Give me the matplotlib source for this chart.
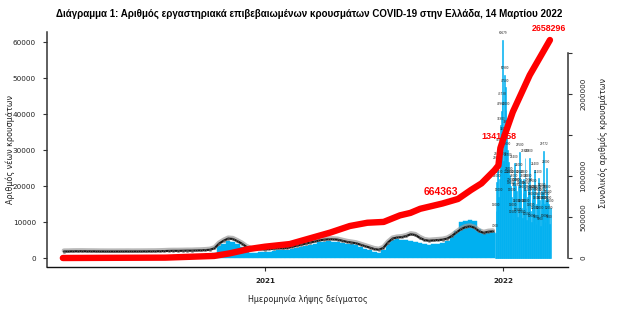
import matplotlib
matplotlib.use("Agg")
import matplotlib.pyplot as plt
import matplotlib.dates as mdates
from matplotlib import font_manager
import numpy as np
import pandas as pd

# fonts: a narrow face for title / red labels if present
names = set(f.name for f in font_manager.fontManager.ttflist)
narrow = "Liberation Sans Narrow" if "Liberation Sans Narrow" in names else "Liberation Sans"

# ---- data ----
# weekly readings, 2020-02-24 .. 2021-12-13 (weeks start on Monday)
week_start = pd.date_range("2020-02-24", "2021-12-13", freq="7D")
week_mean = [5, 20, 60, 70, 80, 60, 50, 40, 20, 15,
             10, 10, 15, 20, 25, 20, 25, 30, 40, 50,
             60, 90, 130, 180, 200, 200, 220, 250, 250, 300,
             330, 400, 500, 900, 2200, 3000, 3600, 3500, 2900, 2200,
             1300, 700, 650, 700, 550, 700, 800, 900, 900, 1000,
             1300, 1600, 1900, 2200, 2500, 2800, 3100, 3300, 3400, 3400,
             3300, 3000, 2700, 2500, 2300, 1900, 1500, 1100, 700, 500,
             1000, 2500, 3600, 3900, 4000, 4300, 4800, 4600, 3800, 3200,
             3000, 3100, 3200, 3300, 3600, 4300, 5300, 6200, 6800, 7000,
             6600, 5600, 5200, 5500, 5600]
week_peak = [10, 40, 100, 110, 120, 100, 150, 80, 40, 30,
             20, 20, 30, 40, 50, 40, 50, 60, 80, 90,
             90, 150, 260, 290, 320, 300, 350, 400, 400, 450,
             500, 600, 800, 1500, 3200, 4000, 4600, 4500, 3900, 3100,
             2000, 1500, 1400, 1800, 1600, 1800, 1900, 2100, 2200, 2200,
             2500, 2700, 3000, 3300, 3600, 4000, 4400, 4500, 4600, 4500,
             4400, 4200, 4000, 4000, 3600, 3000, 2500, 2100, 1600, 1400,
             2200, 4000, 5000, 5200, 5000, 4900, 4700, 4500, 4200, 3800,
             3700, 3800, 4000, 4300, 4800, 6000, 7500, 10000, 10300, 10500,
             10200, 8000, 7000, 7000, 7200]

# daily readings, 2021-12-20 .. 2022-03-14
day_dates = pd.date_range("2021-12-20", "2022-03-14", freq="D")
day_cases = [7000, 13000, 21000, 26000, 27000, 17000, 22000, 30860, 36903, 40963, 43738, 60679,
             27000, 34000, 50980, 47500, 41000, 36000, 30000,
             22000, 26700, 23000, 22000, 20000, 19000, 17000,
             13000, 11000, 21000, 26400, 22000, 20000, 18500,
             14000, 11500, 20000, 24000, 29500, 22000, 19000,
             14000, 11000, 18000, 22000, 21000, 27800, 19000,
             14000, 10500, 17000, 21000, 20000, 27800, 18000,
             13000, 10000, 16000, 19500, 18000, 17500, 24400,
             12000, 9500, 15000, 18000, 17000, 22200, 16000,
             12000, 9000, 15000, 18500, 18000, 17000, 29772,
             15000, 10000, 16000, 25000, 18000, 16500, 15000,
             12000, 9500, 14000]

# cumulative cases (right axis)
cum_dates = pd.to_datetime([
    "2020-02-26", "2020-08-01", "2020-10-15", "2020-11-08", "2020-12-08",
    "2021-01-01", "2021-02-08", "2021-03-11", "2021-04-11", "2021-05-11",
    "2021-06-07", "2021-07-02", "2021-07-27", "2021-08-12", "2021-08-27",
    "2021-09-30", "2021-10-24", "2021-11-13", "2021-11-29", "2021-12-19",
    "2021-12-25", "2021-12-28", "2022-01-01", "2022-01-16", "2022-02-11",
    "2022-03-14"])
cum_cases = [0, 4500, 25000, 57000, 110000,
             138000, 170000, 240000, 310000, 390000,
             430000, 440000, 520000, 550000, 600000,
             664363, 720000, 830000, 910000, 1070000,
             1130000, 1341258, 1440000, 1780000, 2230000,
             2658296]
cum_marked = [664363, 1341258, 2658296]

title = "Διάγραμμα 1: Αριθμός εργαστηριακά επιβεβαιωμένων κρουσμάτων COVID-19 στην Ελλάδα, 14 Μαρτίου 2022"
xlab = "Ημερομηνία λήψης δείγματος"
ylab_left = "Αριθμός νέων κρουσμάτων"
ylab_right = "Συνολικός αριθμός κρουσμάτων"

BLUE = "#00b0f0"
RED = "#ff0000"
label_off = 1800  # value labels sit above the bars

W, H = 631, 327
fig = plt.figure(figsize=(W / 100, H / 100), dpi=100)
renderer = fig.canvas.get_renderer()


def fit_width(t, px):
    # shrink/grow a text so that it spans about px pixels
    w = t.get_window_extent(renderer).width
    t.set_fontsize(t.get_fontsize() * px / w)


ax = fig.add_axes([47 / W, 1 - 267 / H, (568 - 47) / W, (267 - 32) / H])

# bars
ax.bar(week_start, week_peak, width=7, align="edge", color=BLUE, edgecolor=BLUE, linewidth=0.3, zorder=1)
ax.bar(day_dates, day_cases, width=1, align="edge", color=BLUE, edgecolor=BLUE, linewidth=0.4, zorder=1)

# value labels piling up into a dark band (weekly part drawn as band + dots)
wk_mid = week_start + pd.Timedelta(days=3.5)
lab_y = np.array(week_mean) + label_off
ax.plot(wk_mid, lab_y + 250, color="#9a9a9a", lw=3.2, alpha=0.7, zorder=2, solid_capstyle="round")
ax.plot(wk_mid, lab_y, color="#1a1a1a", lw=1.5, zorder=3, solid_capstyle="round",
        marker="o", ms=1.6, mfc="none", mec="#666666", mew=0.4)
for d, c in zip(day_dates + pd.Timedelta(days=0.5), day_cases):
    ax.text(d, c + label_off, str(c), fontsize=2.0, color="#222222", ha="center", va="center", zorder=3)

ax.set_xlim(mdates.date2num(pd.Timestamp("2021-01-01")) - 218 / 238 * 365,
            mdates.date2num(pd.Timestamp("2022-01-01")) + 65 / 238 * 365)
ax.set_ylim(-2500, 62800)
ax.set_yticks(np.arange(0, 60001, 10000))
ax.set_xticks(pd.to_datetime(["2021-01-01", "2022-01-01"]))
ax.xaxis.set_major_formatter(mdates.DateFormatter("%Y"))
for s in ["top", "right"]:
    ax.spines[s].set_visible(False)
ax.spines["left"].set_color("#333333")
ax.spines["left"].set_linewidth(1.1)
ax.spines["bottom"].set_color("#111111")
ax.spines["bottom"].set_linewidth(1.0)
ax.tick_params(axis="y", length=3, width=0.8, pad=5, labelsize=5.2, colors="#333333", labelcolor="#222222")
ax.tick_params(axis="x", length=3, width=0.8, pad=5, labelsize=5.2, colors="#333333", labelcolor="#222222")
for t in ax.get_xticklabels():
    t.set_fontweight("semibold")

# cumulative on right axis
ax2 = ax.twinx()
ax2.set_ylim(-9 / 82 * 1e6, 226 / 82 * 1e6)
ax2.plot(cum_dates, cum_cases, color=RED, lw=4.6, solid_capstyle="round", zorder=5)
for v in cum_marked:
    d = cum_dates[cum_cases.index(v)]
    t = ax2.annotate(str(v), (d, v), xytext=(-1, 5), textcoords="offset points", ha="center", va="bottom",
                     color=RED, fontsize=7, fontweight="bold", family=narrow, zorder=6)
    fit_width(t, 35)
for s in ["top", "left", "bottom"]:
    ax2.spines[s].set_visible(False)
ax2.spines["right"].set_bounds(0, 2.5e6)
ax2.spines["right"].set_color("#333333")
ax2.spines["right"].set_linewidth(1.1)
ax2.set_yticks(np.arange(0, 2500001, 500000))
ax2.set_yticklabels(["0", "500000", "1000000", "", "2000000", ""])
ax2.tick_params(axis="y", length=3, width=0.8, pad=6, labelsize=5.2, colors="#333333", labelcolor="#222222",
                labelrotation=90)
for t in ax2.get_yticklabels():
    t.set_va("center")

# text
tt = fig.text(309 / W, 1 - 14 / H, title, fontsize=8, fontweight="bold", family=narrow, ha="center", va="center")
fit_width(tt, 508)
fig.text(308 / W, 1 - 300 / H, xlab, fontsize=5.8, color="#222222", ha="center", va="center")
fig.text(10 / W, 1 - 150 / H, ylab_left, fontsize=5.8, color="#222222", rotation=90, ha="center", va="center")
fig.text(603 / W, 1 - 143 / H, ylab_right, fontsize=5.8, color="#222222", rotation=90, ha="center", va="center")

fig.savefig("out.png", dpi=100)
